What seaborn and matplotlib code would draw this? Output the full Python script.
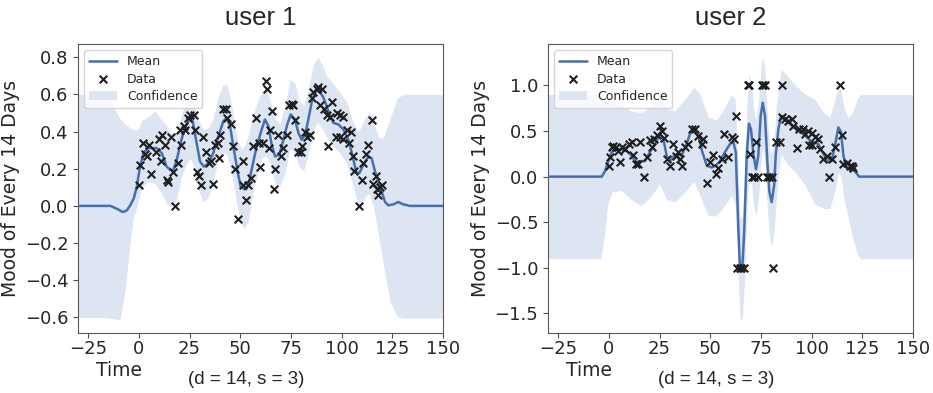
import numpy as np
import pandas as pd
import matplotlib
matplotlib.use("Agg")
import matplotlib.pyplot as plt
import seaborn as sns

# ---------------- user 1 ----------------
u1_data_t = [0.3, 0.6, 1.9, 3.2, 4.0, 5.0, 5.8, 8.5, 9.8, 10.8, 11.6, 12.9, 13.7, 14.5, 16.0,
             17.0, 17.7, 19.2, 20.3, 21.0, 22.3, 23.0, 24.0, 25.2, 27.0, 27.7, 28.5, 29.5, 30.7,
             31.5, 33.0, 34.8, 35.5, 36.7, 37.5, 39.0, 39.5, 40.0, 41.3, 43.0, 43.3, 45.5, 46.6,
             47.6, 48.7, 51.2, 51.5, 52.7, 54.0, 55.5, 56.5, 57.6, 59.3, 59.7, 61.0, 62.6, 63.4,
             64.3, 64.7, 65.8, 66.5, 67.3, 68.5, 70.0, 71.0, 73.0, 74.2, 75.5, 76.2, 77.0, 78.7,
             80.0, 80.6, 82.0, 83.1, 84.4, 85.2, 86.0, 87.7, 88.5, 90.2, 89.5, 91.3, 92.6, 93.4,
             94.3, 95.4, 97.6, 99.2, 100.9, 97.1, 99.2, 100.9, 102.5, 103.8, 104.5, 105.8, 106.3,
             108.7, 109.9, 110.7, 111.9, 112.9, 115.2, 115.7, 116.8, 117.3, 118.1, 119.0, 120.1]
u1_data_v = [0.11, 0.22, 0.34, 0.28, 0.27, 0.33, 0.17, 0.29, 0.36, 0.24, 0.38, 0.33, 0.14, 0.13, 0.37,
             0.18, 0.00, 0.23, 0.41, 0.33, 0.43, 0.41, 0.47, 0.49, 0.49, 0.41, 0.18, 0.16, 0.11,
             0.37, 0.29, 0.23, 0.24, 0.12, 0.33, 0.34, 0.26, 0.38, 0.52, 0.52, 0.47, 0.44, 0.32,
             0.20, -0.07, 0.11, 0.24, 0.03, 0.11, 0.15, 0.32, 0.47, 0.34, 0.21, 0.34, 0.67, 0.63,
             0.31, 0.41, 0.51, 0.09, 0.20, 0.38, 0.27, 0.31, 0.38, 0.54, 0.55, 0.54, 0.46, 0.29,
             0.29, 0.32, 0.40, 0.37, 0.38, 0.58, 0.61, 0.63, 0.64, 0.63, 0.54, 0.52, 0.49, 0.32,
             0.48, 0.56, 0.50, 0.49, 0.48, 0.37, 0.37, 0.36, 0.41, 0.34, 0.40, 0.27, 0.19,
             0.00, 0.14, 0.23, 0.28, 0.33, 0.46, 0.12, 0.16, 0.09, 0.06, 0.10, 0.11]

u1_mean_t = [-30, -20, -14, -10, -8, -6, -4.4, -2.5, -1, 0.3, 2.2, 4.7, 8.8, 11.3, 13.7, 15.7, 17,
             18.7, 21, 22.8, 25.2, 26.6, 28.5, 30.2, 32.1, 34.3, 36.7, 39.2, 41.7, 43.3, 45, 46.6,
             48.6, 50.2, 52.4, 54, 55.6, 58.1, 60.6, 62.2, 63.9, 65.5, 67.2, 69.3, 71.3, 73.2, 74.9,
             77, 78.7, 80.3, 82, 83.6, 85.2, 86.9, 89, 91, 92.6, 94.3, 95.9, 98.4, 100.9, 103.3,
             105.5, 107.1, 108.7, 110.7, 113.2, 114.8, 116.5, 119, 121.4, 123, 125.5, 128, 130.4,
             133.7, 150]
u1_mean_v = [0.0, 0.0, 0.0, -0.02, -0.033, -0.025, 0.0, 0.04, 0.103, 0.193, 0.284, 0.311, 0.311,
             0.284, 0.211, 0.193, 0.193, 0.247, 0.356, 0.420, 0.474, 0.456, 0.338, 0.238, 0.211,
             0.229, 0.284, 0.374, 0.456, 0.474, 0.429, 0.320, 0.193, 0.103, 0.088, 0.112, 0.193,
             0.320, 0.411, 0.465, 0.429, 0.329, 0.266, 0.275, 0.356, 0.438, 0.492, 0.465, 0.392,
             0.356, 0.383, 0.465, 0.555, 0.613, 0.619, 0.583, 0.537, 0.483, 0.447, 0.438, 0.411,
             0.356, 0.266, 0.184, 0.175, 0.220, 0.266, 0.257, 0.184, 0.103, 0.021, 0.003, 0.008,
             0.021, 0.008, 0.0, 0.0]

u1_band_t = [-30, -17, -14, -9.3, -6.8, -4.4, -2.7, -0.5, 1.4, 4.7, 8, 11.3, 13.7, 16, 18.5, 21,
             23.6, 25.4, 27.2, 29.5, 31.8, 34.3, 36.7, 39, 41.3, 43.5, 45.8, 48.3, 50.5, 52, 54,
             56, 58.1, 60.6, 62.7, 64.7, 67.2, 69.5, 72, 74.6, 77, 79, 81.3, 83.6, 86, 88.2, 90.2,
             92.6, 95.9, 99.2, 102.5, 105.4, 107.8, 109.5, 111.5, 113.5, 115.7, 118.1, 120.6,
             123.9, 127.5, 130.5, 150]
u1_upper = [0.60, 0.60, 0.56, 0.47, 0.44, 0.42, 0.41, 0.41, 0.46, 0.48, 0.51, 0.46, 0.43, 0.39,
            0.40, 0.49, 0.58, 0.59, 0.55, 0.46, 0.41, 0.42, 0.47, 0.58, 0.65, 0.65, 0.54, 0.37,
            0.31, 0.32, 0.38, 0.47, 0.55, 0.61, 0.64, 0.57, 0.47, 0.44, 0.54, 0.68, 0.66, 0.57,
            0.54, 0.63, 0.755, 0.80, 0.764, 0.70, 0.655, 0.61, 0.56, 0.46, 0.40, 0.42, 0.47, 0.50,
            0.46, 0.37, 0.365, 0.47, 0.58, 0.60, 0.60]
u1_lower = [-0.60, -0.60, -0.605, -0.613, -0.459, -0.205, -0.06, 0.012, 0.103, 0.13, 0.121, 0.066,
            0.012, -0.006, 0.03, 0.157, 0.229, 0.257, 0.21, 0.084, 0.021, 0.048, 0.139, 0.238,
            0.29, 0.275, 0.175, 0.012, -0.097, -0.124, -0.079, 0.048, 0.157, 0.26, 0.275, 0.229,
            0.121, 0.103, 0.175, 0.31, 0.28, 0.211, 0.19, 0.28, 0.41, 0.447, 0.42, 0.37, 0.32,
            0.284, 0.229, 0.12, 0.012, -0.006, 0.048, 0.066, -0.006, -0.151, -0.314, -0.513,
            -0.595, -0.604, -0.604]

# ---------------- user 2 ----------------
u2_data_t = [0.1, 0.6, 1.4, 2.2, 3.4, 4.4, 5.5, 6.3, 8.0, 10.0, 11.3, 12.1, 13.2, 14.2, 15.4, 17.5,
             18.7, 20.3, 21.4, 22.4, 23.6, 25.2, 26.0, 27.3, 28.5, 30.2, 31.8, 33.0, 34.3, 35.1,
             36.3, 37.6, 39.2, 40.9, 42.5, 44.1, 45.8, 46.6, 48.6, 49.9, 51.5, 52.7, 54.0, 55.6,
             57.0, 58.9, 60.6, 61.9, 62.6, 63.3, 64.5, 65.3, 66.6, 68.5, 69.3, 69.6, 70.8, 71.8,
             72.6, 73.7, 75.3, 76.2, 77.2, 77.8, 79.0, 80.3, 81.1, 82.3, 84.4, 85.2, 85.4, 86.9,
             88.5, 90.2, 91.0, 92.6, 94.0, 95.9, 96.8, 98.4, 100.1, 101.5, 98.6, 100.3, 103.3,
             104.1, 105.8, 107.4, 108.7, 110.0, 111.5, 114.0, 114.8, 115.7, 117.3, 118.9, 120.0,
             120.6]
u2_data_v = [0.12, 0.21, 0.32, 0.34, 0.32, 0.28, 0.16, 0.32, 0.30, 0.36, 0.38, 0.24, 0.14, 0.14,
             0.38, 0.00, 0.21, 0.40, 0.33, 0.41, 0.46, 0.56, 0.50, 0.42, 0.19, 0.12, 0.36, 0.23,
             0.27, 0.19, 0.12, 0.32, 0.36, 0.52, 0.52, 0.45, 0.36, 0.41, -0.07, 0.16, 0.24, 0.03,
             0.10, 0.19, 0.47, 0.21, 0.43, 0.41, 0.66, -1.0, -1.0, -1.0, -1.0, 1.0, 1.0, 0.25,
             0.0, 0.0, 0.38, 0.0, 1.0, 1.0, 1.0, 0.0, 0.0, 0.0, -1.0, 0.38, 0.38, 1.0, 0.65, 0.63,
             0.61, 0.63, 0.56, 0.31, 0.52, 0.52, 0.47, 0.50, 0.48, 0.44, 0.35, 0.35, 0.41, 0.30,
             0.19, 0.23, 0.00, 0.19, 0.32, 1.0, 0.46, 0.14, 0.15, 0.12, 0.12, 0.09]

u2_mean_t = [-30, -3.5, -1.9, -0.2, 1.4, 3.9, 6.3, 8.8, 11.3, 13.2, 15.4, 17.8, 20.3, 22.8, 25.2,
             26.9, 28.5, 30.2, 32.3, 34.3, 35.9, 38.4, 40.5, 42.5, 44.1, 46.1, 48.3, 50.7, 52.7,
             54.8, 57.3, 59.8, 61.4, 62.6, 63.9, 64.7, 65.8, 66.8, 68, 69.1, 70.1, 71.4, 72.6, 73.7,
             74.9, 75.9, 77, 78.2, 79.2, 80.3, 81.5, 82.3, 83.6, 84.9, 86, 87.7, 90.2, 93.5, 96.8,
             100.1, 103.3, 105.8, 108.3, 109.9, 111.5, 113.2, 114.5, 115.7, 117.3, 119.8, 121.7,
             123.4, 150]
u2_mean_v = [0, 0, 0.06, 0.17, 0.27, 0.30, 0.30, 0.28, 0.23, 0.16, 0.17, 0.17, 0.27, 0.36, 0.47,
             0.41, 0.23, 0.17, 0.23, 0.25, 0.23, 0.36, 0.50, 0.52, 0.45, 0.27, 0.12, 0.10, 0.12,
             0.17, 0.27, 0.36, 0.38, 0.27, -0.58, -1.02, -1.02, -0.58, 0.23, 0.58, 0.52, 0.23, 0.08,
             0.23, 0.67, 0.81, 0.67, 0.15, -0.17, -0.28, -0.10, 0.23, 0.52, 0.66, 0.65, 0.61, 0.56,
             0.50, 0.45, 0.38, 0.36, 0.25, 0.16, 0.17, 0.34, 0.54, 0.49, 0.23, 0.10, 0.08, 0.05,
             0.0, 0.0]

u2_band_t = [-30, -4, -2.5, -0.5, 1.5, 6, 11, 16, 21, 25, 28.5, 32.5, 37.5, 42, 45, 49, 53, 57,
             60.5, 62.3, 63.5, 64.7, 65.8, 67, 68.2, 69.3, 70.3, 71.6, 72.6, 73.8, 75, 75.9, 77,
             78.2, 79.3, 80.3, 81.5, 82.5, 83.8, 85, 87.5, 92, 97, 101.5, 106, 109, 111.5, 113.2,
             114.5, 116, 118, 120, 122.5, 124, 150]
u2_upper = [0.90, 0.90, 0.87, 0.80, 0.80, 0.80, 0.72, 0.70, 0.78, 0.92, 0.75, 0.72, 0.85, 0.98,
            0.90, 0.65, 0.62, 0.75, 0.90, 0.85, 0.20, -0.45, -0.45, 0.10, 0.85, 1.12, 1.05, 0.70,
            0.62, 0.80, 1.20, 1.31, 1.18, 0.65, 0.32, 0.24, 0.40, 0.75, 1.00, 1.18, 1.12, 1.00,
            0.90, 0.85, 0.70, 0.65, 0.85, 0.98, 0.95, 0.75, 0.65, 0.70, 0.85, 0.90, 0.90]
u2_lower = [-0.90, -0.90, -0.70, -0.30, -0.17, -0.15, -0.25, -0.32, -0.21, -0.08, -0.25, -0.28,
            -0.17, -0.05, -0.21, -0.43, -0.43, -0.32, -0.20, -0.30, -0.95, -1.55, -1.57, -1.10,
            -0.30, 0.05, -0.05, -0.35, -0.42, -0.25, 0.15, 0.33, 0.15, -0.35, -0.65, -0.78, -0.60,
            -0.30, 0.05, 0.25, 0.15, 0.05, -0.10, -0.30, -0.35, -0.35, -0.15, 0.05, 0.00, -0.25,
            -0.45, -0.65, -0.85, -0.90, -0.90]

titles = ["user 1", "user 2"]
x_ticks = [-25, 0, 25, 50, 75, 100, 125, 150]
y_ticks = [[-0.6, -0.4, -0.2, 0.0, 0.2, 0.4, 0.6, 0.8], [-1.5, -1.0, -0.5, 0.0, 0.5, 1.0]]
y_label = "Mood of Every 14 Days"
x_label = "Time"
note = "(d = 14, s = 3)"

LINE = "#4570b0"
BAND = "#dde5f2"

sns.set_style("ticks")
plt.rcParams["font.family"] = ["DejaVu Sans"]

fig = plt.figure(figsize=(9.33, 3.93), dpi=100)
W, H = 933, 393
ax_boxes = [(78, 44, 443, 333), (548, 44, 913, 333)]
users = [
    (u1_data_t, u1_data_v, u1_mean_t, u1_mean_v, u1_band_t, u1_upper, u1_lower),
    (u2_data_t, u2_data_v, u2_mean_t, u2_mean_v, u2_band_t, u2_upper, u2_lower),
]

for i, (box, u) in enumerate(zip(ax_boxes, users)):
    x0, y0, x1, y1 = box
    ax = fig.add_axes([x0 / W, 1 - y1 / H, (x1 - x0) / W, (y1 - y0) / H])
    dt, dv, mt, mv, bt, bu, bl = u
    assert len(dt) == len(dv) and len(mt) == len(mv) and len(bt) == len(bu) == len(bl)
    dfm = pd.DataFrame({"t": mt, "v": mv})
    dfd = pd.DataFrame({"t": dt, "v": dv})
    sns.lineplot(data=dfm, x="t", y="v", ax=ax, color=LINE, lw=1.8, sort=False,
                 estimator=None, label="Mean", zorder=3)
    sns.scatterplot(data=dfd, x="t", y="v", ax=ax, marker="x", color="#1e1e1e", s=30,
                    linewidth=1.5, label="Data", zorder=4)
    ax.fill_between(bt, bl, bu, color=BAND, lw=0, label="Confidence", zorder=1)
    ax.set_xlim(-30, 150)
    ax.set_xticks(x_ticks)
    ax.set_yticks(y_ticks[i])
    ax.set_xticklabels([f"{t}".replace("-", "\u2212") for t in x_ticks])
    ax.set_yticklabels([f"{t:.1f}".replace("-", "\u2212") for t in y_ticks[i]])
    ax.tick_params(labelsize=13, length=3.5, color="0.3")
    ax.tick_params(axis="x", pad=1.5)
    ax.set_xlabel("")
    ax.set_ylabel(y_label, fontsize=13.5, labelpad=3)
    for sp in ax.spines.values():
        sp.set_color("0.35")
        sp.set_visible(True)
    ax.legend(loc="upper left", fontsize=9, frameon=True, framealpha=0.8,
              edgecolor="0.8", handlelength=2.2, borderpad=0.4, labelspacing=0.35)
    cx = (x0 + x1) / 2
    fig.text(cx / W, 1 - 18 / H, titles[i], ha="center", va="center", fontsize=18.5,
             family=["Liberation Sans", "DejaVu Sans"])
    fig.text((x0 + 41) / W, 1 - 371 / H, x_label, ha="center", va="center", fontsize=13.5,
             family=["Liberation Sans Narrow", "DejaVu Sans"])
    fig.text((x0 + 168) / W, 1 - 379 / H, note, ha="center", va="center", fontsize=13.5,
             family=["Liberation Sans Narrow", "Liberation Sans", "DejaVu Sans"])

fig.savefig("out.png", dpi=100)
